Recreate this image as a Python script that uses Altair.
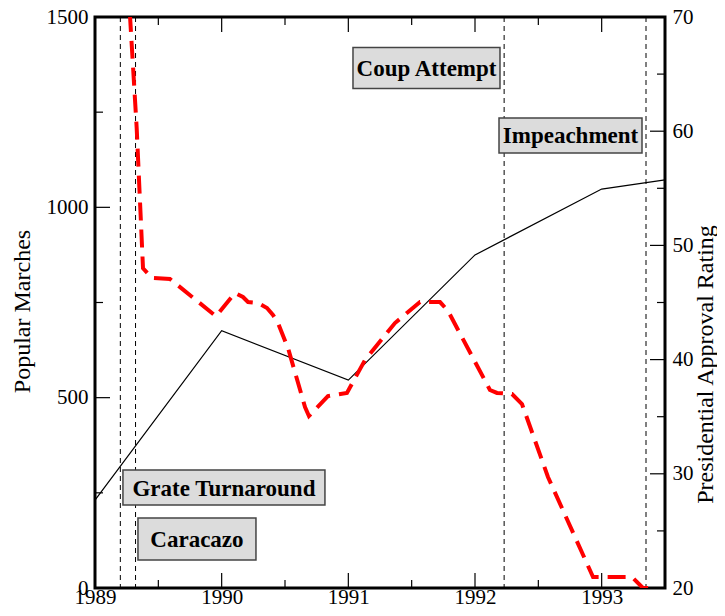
import altair as alt
import pandas as pd

# ---------------- data ----------------
march_year = [1989.0, 1990.0, 1991.0, 1992.0, 1993.0, 1993.5]
march_count = [231, 676, 546, 875, 1048, 1072]

approval_year = [1989.25, 1989.329, 1989.379, 1989.45, 1989.592, 1989.955, 1990.105,
                 1990.168, 1990.208, 1990.287, 1990.358, 1990.405, 1990.445, 1990.524,
                 1990.658, 1990.689, 1990.839, 1990.989, 1991.132, 1991.368, 1991.566,
                 1991.724, 1991.787, 1992.118, 1992.174, 1992.292, 1992.371, 1992.576,
                 1992.932, 1993.239, 1993.326, 1993.42]
approval_value = [75.0, 60.3, 48.0, 47.15, 47.06, 43.8, 45.83,
                  45.48, 45.04, 44.95, 44.52, 43.91, 43.2, 41.0,
                  35.85, 35.06, 36.8, 37.08, 39.97, 43.2, 45.04,
                  45.04, 44.26, 37.34, 37.08, 36.99, 36.11, 29.72,
                  20.96, 20.96, 20.0, 20.0]

event_year = [1989.2, 1989.32, 1992.23, 1993.35]

ann_text = ["Coup Attempt", "Impeachment", "Grate Turnaround", "Caracazo"]
ann_year = [1991.617, 1992.754, 1990.018, 1989.805]
ann_marches = [1366, 1189, 264, 129]

x_major = [1989, 1990, 1991, 1992, 1993]
x_minor = [1989.5, 1990.5, 1991.5, 1992.5]
left_major = [0, 500, 1000, 1500]
left_minor = [250, 750, 1250]
right_major = [20, 30, 40, 50, 60, 70]
right_minor = [25, 35, 45, 55, 65]

# ---------------- style ----------------
W, H = 570, 571
FONT = "Liberation Serif"
MAJOR, MINOR = 15, 8
BOX_SIZE = {"Coup Attempt": (147, 41), "Impeachment": (143, 35),
            "Grate Turnaround": (202, 35), "Caracazo": (118, 42)}

xscale = alt.Scale(domain=[1989, 1993.5], nice=False, zero=False)
yL = alt.Scale(domain=[0, 1500], nice=False, zero=False)
yR = alt.Scale(domain=[20, 70], nice=False, zero=False)

x_axis = alt.Axis(values=x_major, format="d", ticks=False, domain=False, grid=False,
                  labelFont=FONT, labelFontSize=21, labelColor="black", labelPadding=-2,
                  labelFlush=False, labelOverlap=False, title=None)
yL_axis = alt.Axis(values=left_major, format="d", ticks=False, domain=False, grid=False,
                   labelFont=FONT, labelFontSize=21, labelColor="black", labelPadding=7,
                   labelFlush=False, labelOverlap=False,
                   title="Popular Marches", titleFont=FONT, titleFontSize=24,
                   titleFontWeight="normal", titleColor="black",
                   titleAngle=270, titleBaseline="middle", titleAlign="center",
                   titleX=-73, titleY=294)
yR_axis = alt.Axis(values=right_major, format="d", ticks=False, domain=False, grid=False,
                   orient="right",
                   labelFont=FONT, labelFontSize=21, labelColor="black", labelPadding=7,
                   labelFlush=False, labelOverlap=False,
                   title="Presidential Approval Rating", titleFont=FONT, titleFontSize=24,
                   titleFontWeight="normal", titleColor="black",
                   titleAngle=270, titleBaseline="middle", titleAlign="center",
                   titleX=40.5, titleY=347)

X = lambda f: alt.X(f, scale=xscale, axis=x_axis)
YL = lambda f: alt.Y(f, scale=yL, axis=yL_axis)
YR = lambda f: alt.Y(f, scale=yR, axis=yR_axis)

df_m = pd.DataFrame({"year": march_year, "marches": march_count})
df_a = pd.DataFrame({"year": approval_year, "approval": approval_value})
df_e = pd.DataFrame({"year": event_year})

marches = alt.Chart(df_m).mark_line(color="black", strokeWidth=1.2).encode(
    x=X("year:Q"), y=YL("marches:Q"))

events = alt.Chart(df_e).mark_rule(color="black", strokeWidth=1, strokeDash=[5, 4]).encode(
    x=X("year:Q"))

def xticks(vals, length):
    d = pd.DataFrame({"v": vals})
    bot = alt.Chart(d).mark_rule(color="black", strokeWidth=1.2).encode(
        x=X("v:Q"), y=alt.value(H), y2=alt.value(H - length))
    top = alt.Chart(d).mark_rule(color="black", strokeWidth=1.2).encode(
        x=X("v:Q"), y=alt.value(0), y2=alt.value(length))
    return [bot, top]

def lticks(vals, length):
    d = pd.DataFrame({"v": vals})
    return alt.Chart(d).mark_rule(color="black", strokeWidth=1.2).encode(
        y=YL("v:Q"), x=alt.value(0), x2=alt.value(length))

def rticks(vals, length):
    d = pd.DataFrame({"v": vals})
    return alt.Chart(d).mark_rule(color="black", strokeWidth=1.2).encode(
        y=YR("v:Q"), x=alt.value(W), x2=alt.value(W - length))

boxes = []
for t, xv, yv in zip(ann_text, ann_year, ann_marches):
    bw, bh = BOX_SIZE[t]
    d = pd.DataFrame({"year": [xv], "marches": [yv], "label": [t]})
    boxes.append(alt.Chart(d).mark_rect(width=bw, height=bh, fill="#dcdcdc",
                                        stroke="#444444", strokeWidth=1.5).encode(
        x=X("year:Q"), y=YL("marches:Q")))
    boxes.append(alt.Chart(d).mark_text(font=FONT, fontSize=23, fontWeight="bold",
                                        color="black", align="center", baseline="middle",
                                        dy=1).encode(
        x=X("year:Q"), y=YL("marches:Q"), text="label:N"))

left = alt.layer(marches, events, *xticks(x_major, MAJOR), *xticks(x_minor, MINOR),
                 lticks(left_major, MAJOR), lticks(left_minor, MINOR), *boxes)

approval = alt.Chart(df_a).mark_line(color="#ff0000", strokeWidth=4, strokeDash=[18, 9],
                                     clip=True).encode(
    x=X("year:Q"), y=YR("approval:Q"))

right = alt.layer(approval, rticks(right_major, MAJOR), rticks(right_minor, MINOR))

chart = alt.layer(left, right).resolve_scale(y="independent").properties(
    width=W, height=H, autosize="none",
    padding={"left": 87, "top": 9, "right": 52, "bottom": 20},
).configure(background="white").configure_view(stroke="black", strokeWidth=3)

chart.save("out.html", embed_options={"renderer": "svg", "actions": False})
